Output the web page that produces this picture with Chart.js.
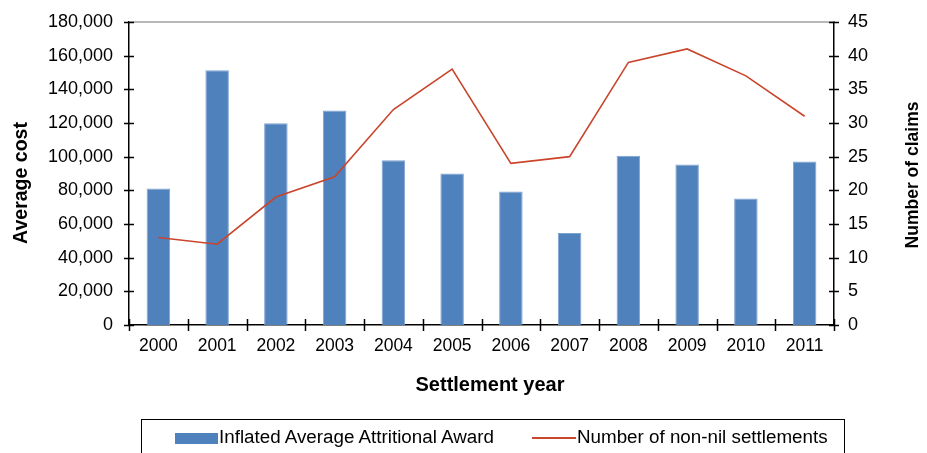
<!DOCTYPE html>
<html>
<head>
<meta charset="utf-8">
<script src="https://cdn.jsdelivr.net/npm/chart.js@4/dist/chart.umd.min.js"></script>
<style>
  html, body { margin: 0; padding: 0; background: #fff; }
  #wrap { position: relative; width: 927px; height: 453px; overflow: hidden; }
  #chart { position: absolute; left: 0; top: 0; }
  #legend {
    position: absolute; left: 141px; top: 419px; width: 704px; height: 60px;
    border: 1.5px solid #000; box-sizing: border-box;
    font: 18.8px "Liberation Sans", Arial, sans-serif; color: #000;
  }
  #legend .swatch { position: absolute; }
  #legend .label { position: absolute; top: 6px; line-height: 22px; white-space: nowrap; }
</style>
</head>
<body>
<div id="wrap">
  <canvas id="chart" width="927" height="453"></canvas>
  <div id="legend"></div>
</div>
<script>
// Settlement years on the category axis
const years = ['2000', '2001', '2002', '2003', '2004', '2005', '2006', '2007', '2008', '2009', '2010', '2011'];
// Inflated average attritional award per settlement year (left axis)
const averageAward = [81100, 151300, 119800, 127500, 97900, 90000, 79300, 54700, 100600, 95400, 75200, 97200];
// Number of non-nil settlements per year (right axis)
const nonNilSettlements = [13, 12, 19, 22, 32, 38, 24, 25, 39, 41, 37, 31];
// Tick values for both value axes
const costTicks = [0, 20000, 40000, 60000, 80000, 100000, 120000, 140000, 160000, 180000];
const claimTicks = [0, 5, 10, 15, 20, 25, 30, 35, 40, 45];

const seriesNames = ['Inflated Average Attritional Award', 'Number of non-nil settlements'];
const barColor = '#4F81BD';
const barEdge = '#7FA3D0';
const lineColor = '#C9452B';

const FONT = '"Liberation Sans", Arial, sans-serif';

// Cross tick marks, top frame line and the three axis titles
const axisDecor = {
  id: 'axisDecor',
  afterDraw(chart) {
    const ctx = chart.ctx;
    const area = chart.chartArea;
    const yL = chart.scales.y, yR = chart.scales.y1, x = chart.scales.x;
    ctx.save();
    // light frame line along the top of the plot
    ctx.strokeStyle = '#a0a0a0';
    ctx.lineWidth = 1.5;
    const topY = yL.getPixelForValue(costTicks[costTicks.length - 1]);
    ctx.beginPath();
    ctx.moveTo(area.left, topY);
    ctx.lineTo(area.right, topY);
    ctx.stroke();

    ctx.strokeStyle = '#000';
    ctx.lineWidth = 1.5;
    ctx.beginPath();
    yL.ticks.forEach((t, i) => {
      const py = Math.round(yL.getPixelForTick(i)) + 0.5;
      ctx.moveTo(area.left - 5, py); ctx.lineTo(area.left + 5, py);
    });
    yR.ticks.forEach((t, i) => {
      const py = Math.round(yR.getPixelForTick(i)) + 0.5;
      ctx.moveTo(area.right - 5, py); ctx.lineTo(area.right + 5, py);
    });
    for (let i = 0; i <= years.length; i++) {
      const px = Math.round(x.getPixelForValue(i - 0.5)) + 0.5;
      ctx.moveTo(px, area.bottom - 6); ctx.lineTo(px, area.bottom + 6);
    }
    ctx.stroke();

    // axis titles
    ctx.fillStyle = '#000';
    ctx.textAlign = 'center';
    ctx.textBaseline = 'middle';
    ctx.font = 'bold 20px ' + FONT;
    ctx.fillText('Settlement year', 490, 385);

    ctx.save();
    ctx.translate(22, 183);
    ctx.rotate(-Math.PI / 2);
    ctx.font = 'bold 19.5px ' + FONT;
    ctx.fillText('Average cost', 0, 0);
    ctx.restore();

    ctx.save();
    ctx.translate(913, 175);
    ctx.rotate(-Math.PI / 2);
    ctx.font = 'bold 17.5px ' + FONT;
    ctx.fillText('Number of claims', 0, 0);
    ctx.restore();
    ctx.restore();
  }
};

// value axes keep no extra label padding above/below the plot
function fixValueAxis(width) {
  return function (scale) {
    scale.width = width;
    scale.paddingTop = 0;
    scale.paddingBottom = 0;
  };
}

const chart = new Chart(document.getElementById('chart'), {
  data: {
    labels: years,
    datasets: [
      {
        type: 'line',
        label: seriesNames[1],
        data: nonNilSettlements,
        yAxisID: 'y1',
        borderColor: lineColor,
        backgroundColor: lineColor,
        borderWidth: 1.6,
        pointRadius: 0,
        tension: 0,
        order: 0
      },
      {
        type: 'bar',
        label: seriesNames[0],
        data: averageAward,
        yAxisID: 'y',
        backgroundColor: barColor,
        borderColor: barEdge,
        borderWidth: { top: 1, left: 1, right: 1, bottom: 0 },
        barPercentage: 0.4,
        categoryPercentage: 1,
        order: 1
      }
    ]
  },
  options: {
    responsive: false,
    animation: false,
    events: [],
    layout: { padding: { top: 22, bottom: 0, left: 0, right: 0 } },
    plugins: { legend: { display: false }, tooltip: { enabled: false } },
    scales: {
      x: {
        offset: true,
        grid: { display: false, drawTicks: false },
        border: { display: true, color: '#000', width: 1.5 },
        ticks: { color: '#000', font: { family: FONT, size: 17.5 }, padding: 11, maxRotation: 0, autoSkip: false },
        afterFit(scale) { scale.height = 128; scale.paddingLeft = 0; scale.paddingRight = 0; }
      },
      y: {
        position: 'left',
        min: 0, max: 180000,
        grid: { display: false, drawTicks: false },
        border: { display: true, color: '#000', width: 1.5 },
        afterBuildTicks(scale) { scale.ticks = costTicks.map(v => ({ value: v })); },
        ticks: {
          color: '#000', font: { family: FONT, size: 18 }, padding: 16,
          callback: v => v.toLocaleString('en-US')
        },
        afterFit: fixValueAxis(129)
      },
      y1: {
        position: 'right',
        min: 0, max: 45,
        grid: { display: false, drawTicks: false },
        border: { display: true, color: '#000', width: 1.5 },
        afterBuildTicks(scale) { scale.ticks = claimTicks.map(v => ({ value: v })); },
        ticks: { color: '#000', font: { family: FONT, size: 18 }, padding: 14 },
        afterFit: fixValueAxis(93)
      }
    }
  },
  plugins: [axisDecor]
});

// Legend built from the dataset labels and colours
(function buildLegend() {
  const box = document.getElementById('legend');
  const bar = chart.data.datasets.find(d => d.type === 'bar');
  const line = chart.data.datasets.find(d => d.type === 'line');
  box.innerHTML =
    '<div class="swatch" style="left:32.5px;top:12.5px;width:43px;height:11px;background:' + bar.backgroundColor + '"></div>' +
    '<div class="label" style="left:77px">' + bar.label + '</div>' +
    '<div class="swatch" style="left:389.5px;top:17px;width:44px;height:2px;background:' + line.borderColor + '"></div>' +
    '<div class="label" style="left:435px">' + line.label + '</div>';
})();
</script>
</body>
</html>
